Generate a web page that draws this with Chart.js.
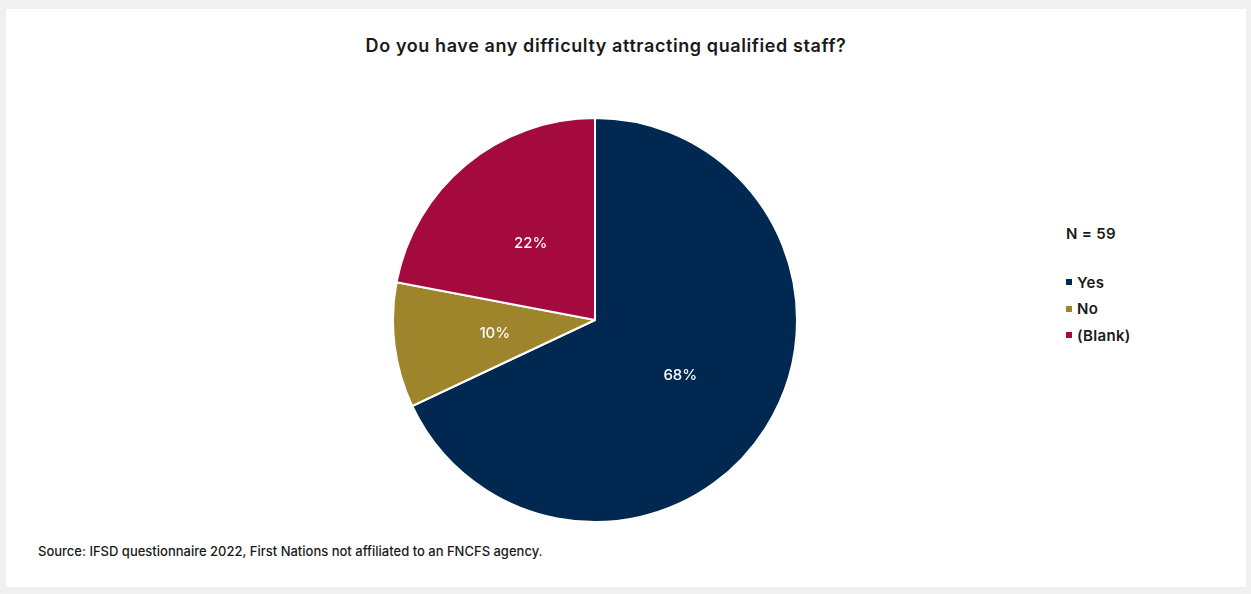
<!DOCTYPE html>
<html>
<head>
<meta charset="utf-8">
<script src="https://cdn.jsdelivr.net/npm/chart.js@4.4.1/dist/chart.umd.min.js"></script>
<style>
  html, body { margin: 0; padding: 0; background: #f0f0f0; }
  body { width: 1251px; height: 594px; position: relative; overflow: hidden; font-family: Inter, "Open Sans", sans-serif; color: #1a1a1a; }
  .card { position: absolute; left: 6px; top: 9px; width: 1240px; height: 578px; background: #fff; }
  .title { position: absolute; left: 0; top: 35px; width: 1212px; text-align: center; font-size: 18px; font-weight: 600; letter-spacing: 0.6px; }
  .source { position: absolute; left: 38px; top: 543px; font-size: 13px; font-weight: 500; }
  #pieWrap { position: absolute; left: 392px; top: 117px; width: 406px; height: 406px; }
  .legend { position: absolute; left: 1066px; top: 224px; font-size: 15px; font-weight: 600; letter-spacing: 0.3px; }
  .legend .n { margin-bottom: 26px; }
  .legend .item { display: flex; align-items: center; height: 26.5px; }
  .legend .swatch { width: 6px; height: 6px; margin-right: 5px; }
</style>
</head>
<body>
<div class="card"></div>
<div class="title">Do you have any difficulty attracting qualified staff?</div>
<div id="pieWrap"><canvas id="pieChart"></canvas></div>
<div class="legend" id="legend"></div>
<div class="source">Source: IFSD questionnaire 2022, First Nations not affiliated to an FNCFS agency.</div>

<script>
const categories = ["Yes", "No", "(Blank)"];
const shares = [68, 10, 22];
const sliceColors = ["#002850", "#9e842b", "#a40a3d"];
const sampleSize = 59;

// percent labels sit halfway out along each slice's middle angle
const sliceLabels = {
    id: "sliceLabels",
    afterDatasetsDraw(chart) {
        const ctx = chart.ctx;
        const meta = chart.getDatasetMeta(0);
        ctx.save();
        ctx.fillStyle = "#ffffff";
        ctx.font = "500 15px Inter, sans-serif";
        ctx.textAlign = "center";
        ctx.textBaseline = "middle";
        meta.data.forEach((arc, i) => {
            const mid = (arc.startAngle + arc.endAngle) / 2;
            const r = arc.outerRadius * 0.5;
            ctx.fillText(shares[i] + "%", arc.x + Math.cos(mid) * r, arc.y + Math.sin(mid) * r + 1);
        });
        ctx.restore();
    },
};

new Chart(document.getElementById("pieChart"), {
    type: "pie",
    data: {
        labels: categories,
        datasets: [{
            data: shares,
            backgroundColor: sliceColors,
            borderColor: "#ffffff",
            borderWidth: 2,
        }],
    },
    options: {
        responsive: true,
        maintainAspectRatio: false,
        animation: false,
        layout: { padding: 0 },
        plugins: {
            legend: { display: false },
            tooltip: { enabled: false },
        },
    },
    plugins: [sliceLabels],
});

// legend built from the same arrays
const legend = document.getElementById("legend");
legend.innerHTML = '<div class="n">N = ' + sampleSize + '</div>' +
    categories.map((c, i) =>
        '<div class="item"><span class="swatch" style="background:' + sliceColors[i] + '"></span>' + c + '</div>'
    ).join("");
</script>
</body>
</html>
